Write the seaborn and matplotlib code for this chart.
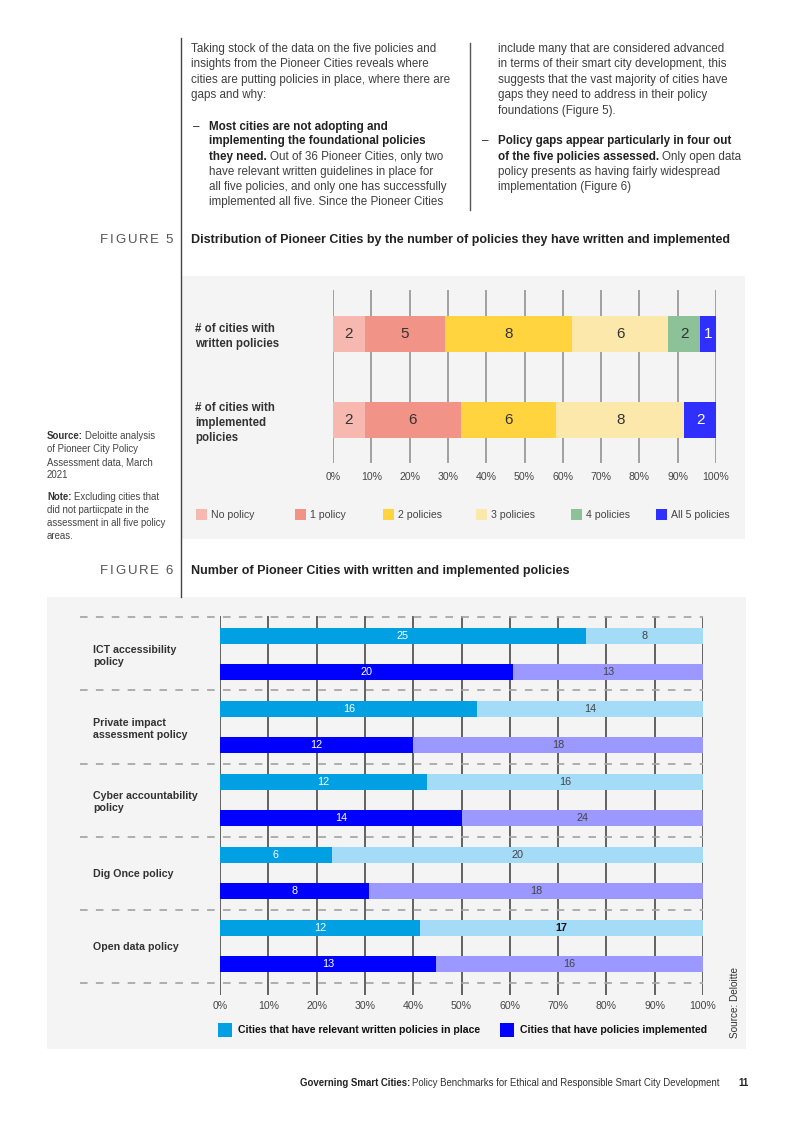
import numpy as np
import pandas as pd
import matplotlib
matplotlib.use("Agg")
import matplotlib.pyplot as plt
from matplotlib.patches import Rectangle
import seaborn as sns

W, H = 793, 1122  # page size in pixels (dpi 100)

# ---------------------------------------------------------------
# Figure 5 data
# ---------------------------------------------------------------
rows5 = ["# of cities with\nwritten policies",
         "# of cities with\nimplemented\npolicies"]
levels5 = ["No policy", "1 policy", "2 policies", "3 policies", "4 policies", "All 5 policies"]
written_counts = [2, 5, 8, 6, 2, 1]
implemented_counts = [2, 6, 6, 8, 0, 2]
level_colors = ["#F7B9AF", "#F29387", "#FFD43F", "#FDE8AB", "#8DC197", "#2F2FFF"]
level_text = ["#333333", "#333333", "#333333", "#333333", "#333333", "#FFFFFF"]

pct_ticks = [0, 10, 20, 30, 40, 50, 60, 70, 80, 90, 100]
pct_labels = ["0%", "10%", "20%", "30%", "40%", "50%", "60%", "70%", "80%", "90%", "100%"]

# ---------------------------------------------------------------
# Figure 6 data
# ---------------------------------------------------------------
policies = ["ICT accessibility\npolicy", "Private impact\nassessment policy",
            "Cyber accountability\npolicy", "Dig Once policy", "Open data policy"]
written_yes = [25, 16, 12, 6, 12]
written_no = [8, 14, 16, 20, 17]
impl_yes = [20, 12, 14, 8, 13]
impl_no = [13, 18, 24, 18, 16]
# share of each bar taken by the dark part, as drawn in the chart (%)
written_share = [75.8, 53.3, 42.9, 23.1, 41.4]
impl_share = [60.6, 40.0, 50.0, 30.8, 44.8]

kinds = ["written", "implemented"]
dark_colors = ["#00A0E3", "#0000FF"]
light_colors = ["#A4DBF7", "#9B98FF"]
legend6 = ["Cities that have relevant written policies in place",
           "Cities that have policies implemented"]

FONT = "Liberation Sans"
plt.rcParams["font.family"] = [FONT, "DejaVu Sans"]

fig = plt.figure(figsize=(W / 100, H / 100), dpi=100)


def px_rect(x0, y0, x1, y1):
    return [x0 / W, 1 - y1 / H, (x1 - x0) / W, (y1 - y0) / H]


page = fig.add_axes([0, 0, 1, 1], zorder=0)
page.set_xlim(0, W)
page.set_ylim(H, 0)
page.axis("off")

BODY = "#3F3F3F"
DARK = "#222222"


def put(x, y, s, size=8.4, color=BODY, weight="normal", **kw):
    return page.text(x, y, s, va="center", ha=kw.pop("ha", "left"), fontsize=size,
                     color=color, fontweight=weight, **kw)


def put_after(artist, s, size=8.4, color=BODY, weight="normal", gap=0):
    return page.annotate(s, xy=(1, 0.5), xycoords=artist, xytext=(gap, 0),
                         textcoords="offset pixels", va="center", ha="left",
                         fontsize=size, color=color, fontweight=weight)


def spaced(x, y, s, size=9.5, gap=1.8, color="#555555"):
    prev = page.text(x, y, s[0], va="center", fontsize=size, color=color)
    extra = 0
    for ch in s[1:]:
        if ch == " ":
            extra = 4.5
            continue
        prev = page.annotate(ch, xy=(1, 0.5), xycoords=prev, xytext=(gap + extra, 0),
                             textcoords="offset pixels", va="center", fontsize=size, color=color)
        extra = 0


# page furniture
page.add_patch(Rectangle((181, 276), 564, 263, color="#F4F4F4", lw=0))
page.add_patch(Rectangle((47, 597), 699, 452, color="#F4F4F4", lw=0))
page.plot([181, 181], [38, 597], color="#444444", lw=1)
page.plot([470, 470], [43, 210], color="#555555", lw=1)

# body text, left column
for y, s in [(49, "Taking stock of the data on the five policies and"),
             (64.3, "insights from the Pioneer Cities reveals where"),
             (80, "cities are putting policies in place, where there are"),
             (95.3, "gaps and why:")]:
    put(191, y, s)
put(193, 126.7, "–", color=DARK)
put(209, 126.7, "Most cities are not adopting and", color=DARK, weight="bold")
put(209, 141, "implementing the foundational policies", color=DARK, weight="bold")
t = put(209, 156.7, "they need.", color=DARK, weight="bold")
put_after(t, "Out of 36 Pioneer Cities, only two", gap=3)
for y, s in [(171.7, "have relevant written guidelines in place for"),
             (186.7, "all five policies, and only one has successfully"),
             (202.3, "implemented all five. Since the Pioneer Cities")]:
    put(209, y, s)

# body text, right column
for y, s in [(49, "include many that are considered advanced"),
             (64.3, "in terms of their smart city development, this"),
             (80, "suggests that the vast majority of cities have"),
             (95.3, "gaps they need to address in their policy"),
             (110.7, "foundations (Figure 5).")]:
    put(498, y, s)
put(482, 141, "–", color=DARK)
put(498, 141, "Policy gaps appear particularly in four out", color=DARK, weight="bold")
t = put(498, 156.7, "of the five policies assessed.", color=DARK, weight="bold")
put_after(t, "Only open data", gap=3)
put(498, 171.7, "policy presents as having fairly widespread")
put(498, 186.7, "implementation (Figure 6)")

# figure captions
spaced(100, 240, "FIGURE 5")
spaced(100, 571, "FIGURE 6")
put(191, 240, "Distribution of Pioneer Cities by the number of policies they have written and implemented",
    size=9.0, color=DARK, weight="bold")
put(191, 571, "Number of Pioneer Cities with written and implemented policies",
    size=9.0, color=DARK, weight="bold")

# side notes
t = put(47, 436, "Source:", size=6.9, color="#333333", weight="bold")
put_after(t, "Deloitte analysis", size=6.9, color="#444444", gap=2.5)
for y, s in [(449, "of Pioneer City Policy"), (462, "Assessment data, March"), (475, "2021")]:
    put(47, y, s, size=6.9, color="#444444")
t = put(47, 497, "Note:", size=6.9, color="#333333", weight="bold")
put_after(t, "Excluding cities that", size=6.9, color="#444444", gap=2.5)
for y, s in [(510, "did not partiicpate in the"), (523, "assessment in all five policy"), (536, "areas.")]:
    put(47, y, s, size=6.9, color="#444444")

# ---------------------------------------------------------------
# Figure 5 — stacked distribution bars
# ---------------------------------------------------------------
recs = []
for row, counts in zip(rows5, [written_counts, implemented_counts]):
    total = sum(counts)
    cum = 0
    for lvl, c in zip(levels5, counts):
        start = cum
        cum += c
        recs.append({"row": row, "level": lvl, "count": c,
                     "start": 100 * start / total, "end": 100 * cum / total})
df5 = pd.DataFrame(recs)

ax5 = fig.add_axes(px_rect(333, 290, 716, 463), zorder=1)
ax5.patch.set_alpha(0)
# draw the longest cumulative bar first so shorter ones sit on top
for lvl, col in reversed(list(zip(levels5, level_colors))):
    sub = df5[df5["level"] == lvl]
    sns.barplot(data=sub, x="end", y="row", order=rows5, color=col, width=0.42,
                saturation=1, errorbar=None, linewidth=0, orient="h", ax=ax5)
for i, row in enumerate(rows5):
    sub = df5[df5["row"] == row]
    for k, r in enumerate(sub.itertuples()):
        if r.count > 0:
            ax5.text((r.start + r.end) / 2, i, str(r.count), ha="center", va="center",
                     fontsize=11, color=level_text[k])
for tck in pct_ticks:
    ax5.axvline(tck, color="#A0A0A0", lw=1.4, zorder=0.5)
ax5.set_xlim(0, 100)
ax5.set_ylim(1.5, -0.51)
ax5.set_xticks(pct_ticks)
ax5.set_xticklabels(pct_labels)
ax5.set_yticks([0, 1])
ax5.set_yticklabels(rows5, ha="left", fontweight="bold", color="#333333")
for lab in ax5.get_yticklabels():
    lab.set_linespacing(1.3)
ax5.tick_params(axis="x", length=0, pad=6.5, labelsize=7.6, labelcolor="#444444")
ax5.tick_params(axis="y", length=0, pad=(333 - 195) * 0.72, labelsize=8.3)
ax5.set_xlabel("")
ax5.set_ylabel("")
for sp in ax5.spines.values():
    sp.set_visible(False)

# figure 5 legend
sw_x = [196, 295, 383, 476, 571, 656]
for x, lvl, col in zip(sw_x, levels5, level_colors):
    page.add_patch(Rectangle((x, 509), 11, 11, color=col, lw=0))
    put(x + 15, 514.5, lvl, size=7.6, color="#444444")

# ---------------------------------------------------------------
# Figure 6 — written vs implemented per policy
# ---------------------------------------------------------------
recs = []
for i, p in enumerate(policies):
    recs.append({"policy": p, "kind": "written", "share": written_share[i], "full": 100})
    recs.append({"policy": p, "kind": "implemented", "share": impl_share[i], "full": 100})
df6 = pd.DataFrame(recs)

ax6 = fig.add_axes(px_rect(220, 616, 703, 995), zorder=1)
ax6.patch.set_alpha(0)
sns.barplot(data=df6, x="full", y="policy", hue="kind", order=policies, hue_order=kinds,
            palette=light_colors, width=1.0, gap=0.56, saturation=1, errorbar=None,
            linewidth=0, legend=False, orient="h", ax=ax6)
sns.barplot(data=df6, x="share", y="policy", hue="kind", order=policies, hue_order=kinds,
            palette=dark_colors, width=1.0, gap=0.56, saturation=1, errorbar=None,
            linewidth=0, legend=False, orient="h", ax=ax6)

for i in range(len(policies)):
    for off, share, yes, no in [(-0.25, written_share[i], written_yes[i], written_no[i]),
                                (0.25, impl_share[i], impl_yes[i], impl_no[i])]:
        ax6.text(share / 2, i + off, str(yes), ha="center", va="center",
                 fontsize=7.8, color="white")
        bold = (no == 17)
        ax6.text((share + 100) / 2, i + off, str(no), ha="center", va="center",
                 fontsize=7.8, color="#111111" if bold else "#444444",
                 fontweight="bold" if bold else "normal")

for tck in pct_ticks:
    ax6.axvline(tck, color="#3A3A3A", lw=1.1, zorder=0.5)
for k in range(len(policies) + 1):
    ax6.axhline(k - 0.5, xmin=-0.29, xmax=1, clip_on=False, color="#A8A8A8",
                lw=1.3, ls=(0, (4.2, 4.6)), zorder=0.6)
ax6.set_xlim(0, 100)
ax6.set_ylim(4.67, -0.52)
ax6.set_xticks(pct_ticks)
ax6.set_xticklabels(pct_labels)
ax6.set_yticks(range(len(policies)))
ax6.set_yticklabels(policies, ha="left", fontweight="bold", color="#333333")
for lab in ax6.get_yticklabels():
    lab.set_linespacing(1.3)
ax6.tick_params(axis="x", length=0, pad=4.5, labelsize=7.6, labelcolor="#444444")
ax6.tick_params(axis="y", length=0, pad=(220 - 93) * 0.72, labelsize=7.7)
ax6.set_xlabel("")
ax6.set_ylabel("")
for sp in ax6.spines.values():
    sp.set_visible(False)

# figure 6 legend + source
for x, lab, col in zip([218, 500], legend6, dark_colors):
    page.add_patch(Rectangle((x, 1023), 14, 14, color=col, lw=0))
    put(x + 20, 1030, lab, size=7.6, color="#111111", weight="bold")
page.text(735, 1003, "Source: Deloitte", rotation=90, ha="center", va="center",
          fontsize=7.2, color="#333333")

# footer
t = put(300, 1083, "Governing Smart Cities:", size=6.9, color="#222222", weight="bold")
put_after(t, "Policy Benchmarks for Ethical and Responsible Smart City Development",
          size=6.9, color="#333333", gap=2)
put(738, 1083, "11", size=6.9, color="#222222", weight="bold")

fig.savefig("out.png", dpi=100)
